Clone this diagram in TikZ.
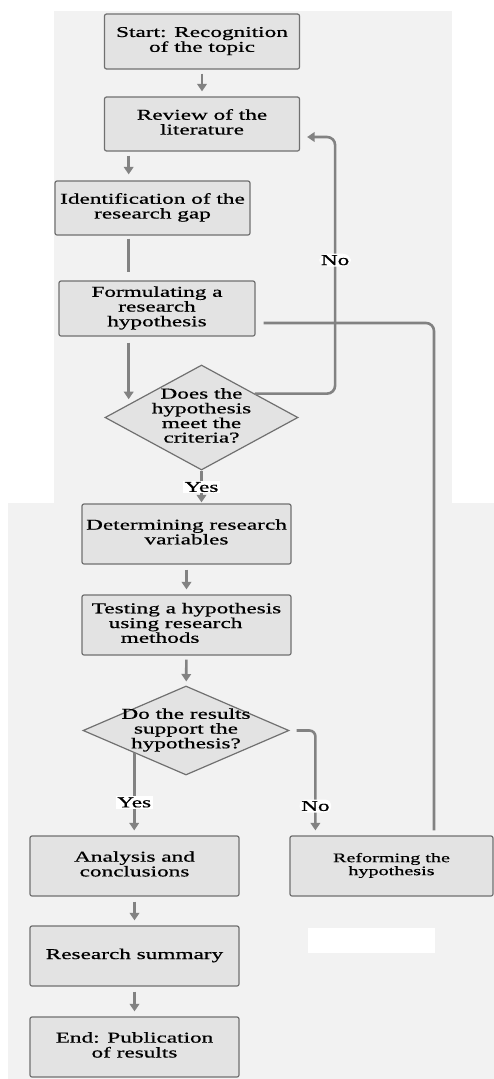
\documentclass[tikz,border=0pt]{standalone}
\usepackage{fontspec}
\setmainfont[FakeStretch=1.55,FakeBold=0.6]{Liberation Serif}
\usetikzlibrary{shapes.geometric,arrows.meta,calc}

\definecolor{boxfill}{HTML}{E3E3E3}
\definecolor{boxline}{HTML}{707070}
\definecolor{flowgray}{HTML}{828282}
\definecolor{panel}{HTML}{F2F2F2}

\newcommand{\stacktext}[1]{\makebox[0pt]{\begin{tabular}{@{}c@{}}#1\end{tabular}}}

\begin{document}
\begin{tikzpicture}[x=1pt,y=-1pt,
	stepbox/.style={rectangle,draw=boxline,fill=boxfill,line width=1.2pt,rounded corners=2pt,inner sep=0pt,font=\fontsize{15}{14.5}\selectfont},
	choice/.style={diamond,draw=boxline,fill=boxfill,line width=1.2pt,inner sep=0pt,font=\fontsize{15}{14.5}\selectfont},
	flow/.style={color=flowgray,line width=2.6pt,-{Triangle[width=9.5pt,length=7.5pt]}},
	link/.style={color=flowgray,line width=2.6pt},
	tag/.style={fill=white,text=black,inner sep=1.5pt,font=\fontsize{15}{14.5}\selectfont}]

		\useasboundingbox (0,0) rectangle (494,1079);
		\fill[panel] (54,11) rectangle (452,503);
		\fill[panel] (8,503) rectangle (494,1079);
		\fill[white] (308,928) rectangle (435,953);

		\node[stepbox,minimum width=195pt,minimum height=55pt] (start) at (202,41.5)
			{\stacktext{Start: Recognition\\of the topic}};
		\node[stepbox,minimum width=195pt,minimum height=54pt] (review) at (202,124)
			{\stacktext{Review of the\\literature}};
		\node[stepbox,minimum width=195pt,minimum height=54pt] (ident) at (152.5,208)
			{\stacktext{Identification of the\\research gap}};
		\node[stepbox,minimum width=196pt,minimum height=55pt] (form) at (157,308.5)
			{\stacktext{Formulating a\\research\\hypothesis}};
		\node[choice,minimum width=193pt,minimum height=105pt] (q1) at (201.5,417.5)
			{\stacktext{Does the\\hypothesis\\meet the\\criteria?}};
		\node[stepbox,minimum width=209pt,minimum height=60pt] (determ) at (186.5,534)
			{\stacktext{Determining research\\variables}};
		\node[stepbox,minimum width=209pt,minimum height=60pt] (test) at (186.5,625)
			{\makebox[0pt]{\begin{tabular}{@{}l@{}}Testing a hypothesis\\\hspace{17pt}using research\\\hspace{29pt}methods\end{tabular}}};
		\node[choice,minimum width=206pt,minimum height=89pt] (q2) at (186,730.5)
			{\stacktext{Do the results\\support the\\hypothesis?}};
		\node[stepbox,minimum width=209pt,minimum height=60pt] (analysis) at (134.5,866)
			{\stacktext{Analysis and\\conclusions}};
		\node[stepbox,minimum width=209pt,minimum height=60pt] (summary) at (134.5,956)
			{\stacktext{Research summary}};
		\node[stepbox,minimum width=209pt,minimum height=60pt] (finish) at (134.5,1047)
			{\stacktext{End: Publication\\of results}};
		\node[stepbox,minimum width=203pt,minimum height=60pt,font=\fontsize{13}{13}\selectfont] (reform) at (391.5,866)
			{\stacktext{Reforming the\\hypothesis}};

		\coordinate (leftcol) at ($(q1.west)!.25!(q1.north)$);
		\coordinate (backcol) at ($(review.east)+(35,13)$);
		\coordinate (farcol) at (434,323);
		\coordinate (yescol) at ($(q2.west)!.5!(q2.south)$);
		\coordinate (nocol) at ($(reform.north west)+(26,0)$);

		\path[flow] (start) edge[shorten <=4pt,shorten >=5pt] (review);
		\path[flow] (review.south -| leftcol) edge[shorten <=4pt,shorten >=6pt]
			(ident.north -| leftcol);
		\path[link] (ident.south -| leftcol) edge[shorten <=3pt,shorten >=8pt]
			(form.north -| leftcol);
		\path[flow] (form.south -| leftcol) edge[shorten <=6pt,shorten >=5pt]
			(leftcol);

		\draw[flow,rounded corners=8pt,shorten >=7pt] ($(q1.east)!.45!(q1.north)$)
			-| (backcol) node[tag,pos=.76] (noup) {No}
			-- (backcol -| review.east);
		\draw[link,rounded corners=8pt,shorten <=8pt,shorten >=5pt] (form.east |- farcol)
			-| (reform.north -| farcol);

		\path[flow] (q1.south) edge[shorten >=1pt] node[tag,midway] (yesup)
			{Yes} (q1.south |- determ.north);
		\path[flow] (determ) edge[shorten <=5pt,shorten >=5pt] (test);
		\path[flow] (test) edge[shorten <=4pt,shorten >=4pt] (q2);

		\path[flow] (yescol) edge[shorten >=5pt] node[tag,pos=.6] (yesdown)
			{Yes} (yescol |- analysis.north);
		\draw[flow,rounded corners=6pt,shorten <=7pt,shorten >=5pt] (q2.east)
			-| (nocol) node[tag,pos=.86] (nodown) {No};

		\path[flow] (analysis) edge[shorten <=5pt,shorten >=5pt] (summary);
		\path[flow] (summary) edge[shorten <=5pt,shorten >=5pt] (finish);

	\end{tikzpicture}
\end{document}
